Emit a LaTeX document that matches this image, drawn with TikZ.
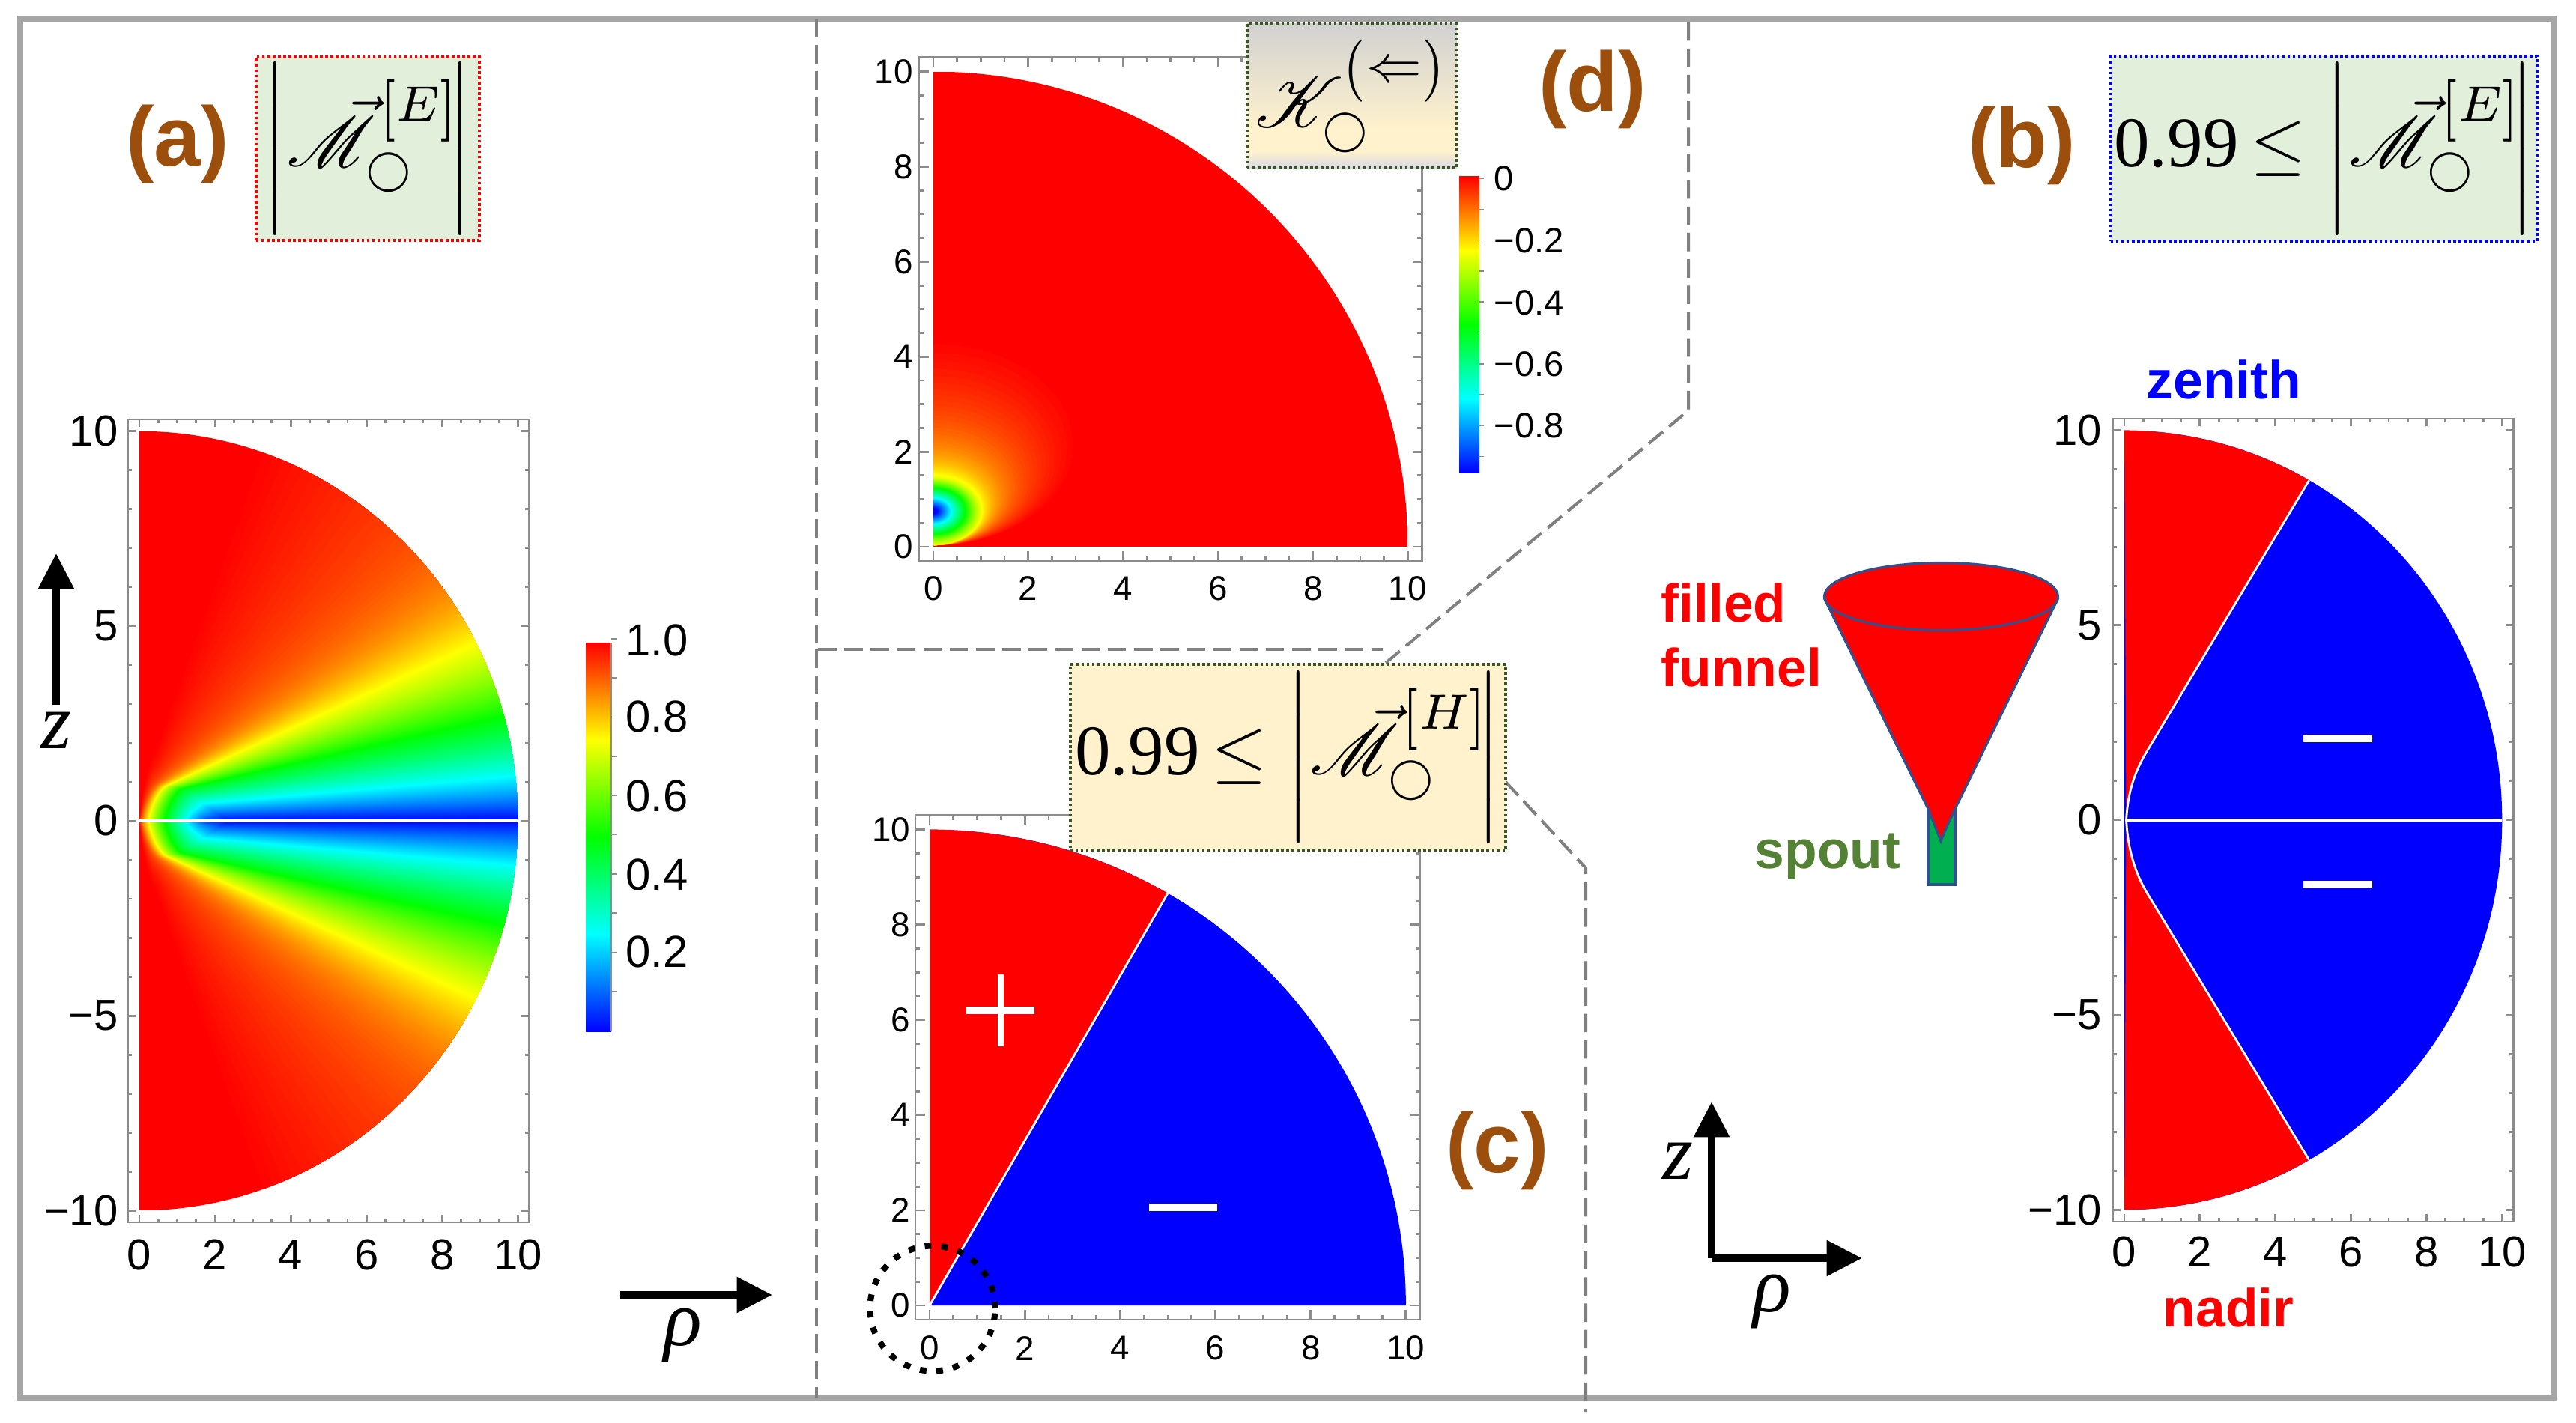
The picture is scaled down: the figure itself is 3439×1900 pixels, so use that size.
\documentclass[tikz,border=0pt]{standalone}
\usetikzlibrary{arrows.meta}
\usepackage{amsmath}
\usepackage{graphicx}
\usepackage{mathrsfs}
\usepackage{fontspec}
\setmainfont{Liberation Sans}
\newfontfamily\timesf{Liberation Serif}
\definecolor{panelgray}{HTML}{A6A6A6}
\definecolor{dashgray}{HTML}{808080}
\definecolor{plotgray}{HTML}{8C8C8C}
\definecolor{labelbrown}{HTML}{9C4F0C}
\definecolor{boxgreen}{HTML}{E2EFDA}
\definecolor{boxcream}{HTML}{FFF2CC}
\definecolor{dotgreen}{HTML}{385723}
\definecolor{spoutgreen}{HTML}{548235}
\definecolor{spoutfill}{HTML}{00B050}
\definecolor{funnelblue}{HTML}{2F528F}
\pgfdeclareverticalshading{rainbowbar}{100bp}{color(0bp)=(blue); color(25bp)=(blue); color(37.5bp)=(cyan); color(50bp)=(green); color(62.5bp)=(yellow); color(75bp)=(red); color(100bp)=(red)}
\pgfdeclareverticalshading{kappabox}{100bp}{color(0bp)=(boxcream); color(25bp)=(blue!15!gray!25); color(31bp)=(boxcream); color(38bp)=(boxcream); color(75bp)=(black!18); color(100bp)=(black!18)}
\newcommand{\ringsub}{\scalebox{1}[1.2]{$\scriptscriptstyle\bigcirc$}}
\newcommand{\tallb}[1]{\raisebox{-.8pt}{\scalebox{1}[1.25]{$\scriptstyle#1$}}}
\newcommand{\magn}[1]{\left|\rule[-7.9pt]{0pt}{20.8pt}\smash{\vec{\mathscr{M}}_{\ringsub}^{\hspace{.6pt}\tallb{[}#1\tallb{]}}}\!\right|}
\newcommand{\plotframe}[3]{
	\draw[plotline] (-.3,#1) rectangle (10.3,10.3);
	\foreach \t in {0,.5,...,10} {
		\draw[plotline] (\t,#1) -- ++(0,.1);
		\draw[plotline] (\t,10.3) -- ++(0,-.1);
	}
	\foreach \t in {0,2,...,10} {
		\draw[plotline] (\t,#1) -- ++(0,.2);
		\draw[plotline] (\t,10.3) -- ++(0,-.2);
	}
	\foreach \t in {#2} {
		\draw[plotline] (-.3,\t) -- ++(.1,0);
		\draw[plotline] (10.3,\t) -- ++(-.1,0);
	}
	\foreach \t in {#3} {
		\draw[plotline] (-.3,\t) -- ++(.2,0);
		\draw[plotline] (10.3,\t) -- ++(-.2,0);
	}
}
\begin{document}
\begin{tikzpicture}[x=0.01cm,y=-0.01cm]
	\tikzstyle{plotline}=[plotgray,line width=.8pt]
	\tikzstyle{ticklarge}=[inner sep=0pt,font=\fontsize{16.5}{18}\selectfont]
	\tikzstyle{ticksmall}=[inner sep=0pt,font=\fontsize{13}{15}\selectfont]
	\tikzstyle{barlarge}=[inner sep=0pt,anchor=west,font=\fontsize{17}{19}\selectfont]
	\tikzstyle{barsmall}=[inner sep=0pt,anchor=west,font=\fontsize{13.4}{15}\selectfont]
	\tikzstyle{panellabel}=[inner sep=0pt,labelbrown,font=\fontsize{32}{36}\selectfont\bfseries]
	\tikzstyle{wordlabel}=[inner sep=0pt,anchor=base west,font=\fontsize{20.3}{24}\selectfont\bfseries]
	\tikzstyle{axislabel}=[inner sep=0pt,font=\fontsize{30}{32}\selectfont\timesf\itshape]
	\tikzstyle{eqbox}=[draw,line width=1pt,dash pattern=on 1pt off 1pt,inner sep=0pt]
	\tikzstyle{axisarrow}=[line width=2.8pt,-{Triangle[length=13.5pt,width=13pt]}]
	\tikzstyle{regionline}=[white,line width=.8pt]
	\tikzstyle{signbar}=[white,line width=2.8pt]
	\tikzstyle{panelline}=[dashgray,line width=1.15pt,dash pattern=on 7pt off 3pt]
	\useasboundingbox (0,0) rectangle (3439,1900);
	\draw[panelgray,line width=2pt] (27,25) rectangle (3409,1866);

	\coordinate (d_1) at (1090,25);
	\coordinate (d_2) at (1090,867);
	\coordinate (d_3) at (1846,867);
	\coordinate (d_4) at (1850,885);
	\coordinate (d_5) at (2254,548);
	\coordinate (d_6) at (2254,25);
	\coordinate (c_1) at (1090,1866);
	\coordinate (c_2) at (2010,1044);
	\coordinate (c_3) at (2117,1159);
	\coordinate (c_4) at (2117,1885);
	\draw[panelline] (d_1) -- (d_2) -- (d_3);
	\draw[panelline] (d_4) -- (d_5) -- (d_6);
	\draw[panelline] (d_2) -- (c_1);
	\draw[panelline] (c_2) -- (c_3) -- (c_4);

	\begin{scope}[shift={(186,1096)},x=.505cm,y=.52cm]
		\plotframe{-10.3}{-10,-9,...,10}{-10,-5,...,10}
		\begin{scope}
			\clip (0,-10) arc[start angle=-90,end angle=90,radius=10] -- cycle;
			\fill[red] (0,-10) rectangle (10,10);
			\foreach \i in {239,238,...,1} {
				\pgfmathsetmacro{\v}{\i/240}
				\pgfmathsetmacro{\m}{.403*\v/(1.422-\v)+2*\v^30}
				\pgfmathsetmacro{\c}{min(1.2*\v,.58)}
				\pgfmathsetmacro{\s}{1.9*(1-\v)^1.5}
				\pgfmathsetmacro{\k}{\s+.45}
				\pgfmathsetmacro{\h}{\c+\m*\k}
				\pgfmathsetmacro{\cr}{max(0,min(1,4*\v-2))}
				\pgfmathsetmacro{\cg}{max(0,min(1,min(4*\v,4-4*\v)))}
				\pgfmathsetmacro{\cb}{max(0,min(1,2-4*\v))}
				\definecolor{levelcolor}{rgb}{\cr,\cg,\cb}
				\fill[levelcolor] (\s,0) .. controls (\s+.1,.55*\h) and (\k-.15,\h-.1) .. (\k,\h) -- (11.5,\c+11.5*\m) -- (11.5,-\c-11.5*\m) -- (\k,-\h) .. controls (\k-.15,-\h+.1) and (\s+.1,-.55*\h) .. (\s,0) -- cycle;
			}
		\end{scope}
		\draw[white,line width=.9pt] (0,0) -- (10,0);
		\foreach \t in {0,2,...,10}
			\node[ticklarge] (a_x\t) at (\t,-11.13) {\t};
		\foreach \t/\s in {-10/−10,-5/−5,0/0,5/5,10/10}
			\node[ticklarge,anchor=east] (a_y\t) at (-.55,\t) {\s};
	\end{scope}

	\begin{scope}[shift={(2836,1095)},x=.504cm,y=.52cm]
		\plotframe{-10.3}{-10,-9,...,10}{-10,-5,...,10}
		\fill[blue] (0,-10) arc[start angle=-90,end angle=90,radius=10] -- cycle;
		\fill[red] (0,10) arc[start angle=90,end angle=60.7,radius=10] -- (.65,1.85) .. controls (.3,1.3) and (.1,.8) .. (.05,0) -- cycle;
		\fill[red] (0,-10) arc[start angle=-90,end angle=-60.7,radius=10] -- (.65,-1.95) .. controls (.3,-1.4) and (.1,-.8) .. (.05,0) -- cycle;
		\draw[regionline] (4.89,8.72) -- (.65,1.85) .. controls (.3,1.3) and (.1,.8) .. (.05,0);
		\draw[regionline] (4.89,-8.72) -- (.65,-1.95) .. controls (.3,-1.4) and (.1,-.8) .. (.05,0);
		\draw[white,line width=.9pt] (.05,0) -- (10,0);
		\draw[signbar] (4.74,2.1) -- (6.56,2.1);
		\draw[signbar] (4.74,-1.65) -- (6.56,-1.65);
		\foreach \t in {0,2,...,10}
			\node[ticklarge] (b_x\t) at (\t,-11.08) {\t};
		\foreach \t/\s in {-10/−10,-5/−5,0/0,5/5,10/10}
			\node[ticklarge,anchor=east] (b_y\t) at (-.58,\t) {\s};
	\end{scope}

	\begin{scope}[shift={(1241,1743)},x=.6355cm,y=.635cm]
		\plotframe{-.3}{0,.5,...,10}{0,2,...,10}
		\fill[blue] (0,0) -- (10,0) arc[start angle=0,end angle=90,radius=10] -- cycle;
		\fill[red] (0,0) -- (5,8.66) arc[start angle=60,end angle=90,radius=10] -- cycle;
		\draw[regionline] (0,0) -- (5,8.66);
		\draw[signbar] (.77,6.2) -- (2.2,6.2);
		\draw[white,line width=2.2pt] (1.49,5.45) -- (1.49,6.95);
		\draw[signbar] (4.6,2.06) -- (6.04,2.06);
		\foreach \t in {0,2,...,10} {
			\node[ticksmall] (c_x\t) at (\t,-.9) {\t};
			\node[ticksmall,anchor=east] (c_y\t) at (-.4,\t) {\t};
		}
	\end{scope}

	\begin{scope}[shift={(1246,730)},x=.633cm,y=.634cm]
		\plotframe{-.3}{0,.5,...,10}{0,2,...,10}
		\begin{scope}
			\clip (0,0) -- (10,0) arc[start angle=0,end angle=90,radius=10] -- cycle;
			\fill[red] (0,0) rectangle (10,10);
			\foreach \i in {159,158,...,1} {
				\pgfmathsetmacro{\v}{\i/160}
				\pgfmathsetmacro{\rx}{.08+1.2*\v+1.8*\v^12}
				\pgfmathsetmacro{\ry}{.72*\rx}
				\pgfmathsetmacro{\cy}{max(.75,\ry+.03)}
				\pgfmathsetmacro{\cr}{max(0,min(1,4*\v-2))}
				\pgfmathsetmacro{\cg}{max(0,min(1,min(4*\v,4-4*\v)))}
				\pgfmathsetmacro{\cb}{max(0,min(1,2-4*\v))}
				\definecolor{levelcolor}{rgb}{\cr,\cg,\cb}
				\fill[levelcolor] (0,\cy) ellipse[x radius=\rx,y radius=\ry];
			}
		\end{scope}
		\foreach \t in {0,2,...,10} {
			\node[ticksmall] (d_x\t) at (\t,-.88) {\t};
			\node[ticksmall,anchor=east] (d_y\t) at (-.42,\t) {\t};
		}
	\end{scope}

	\shade[shading=rainbowbar] (782,858) rectangle (816,1377);
	\draw[plotline,line width=.6pt] (816,858) -- (816,1377);
	\foreach \t in {1,...,10}
		\draw[plotline,line width=.5pt] (816,1376-\t*52.3) -- ++(8,0);
	\node[barlarge] (bar_a1) at (835,855) {1.0};
	\node[barlarge] (bar_a2) at (835,957) {0.8};
	\node[barlarge] (bar_a3) at (835,1063) {0.6};
	\node[barlarge] (bar_a4) at (835,1168) {0.4};
	\node[barlarge] (bar_a5) at (835,1271) {0.2};

	\shade[shading=rainbowbar] (1948,236) rectangle (1975,631);
	\foreach \t in {0,1,...,9}
		\draw[plotline,line width=.4pt] (1975,238+\t*41.3) -- ++(6,0);
	\node[barsmall] (bar_d1) at (1994,238) {0};
	\node[barsmall] (bar_d2) at (1994,321) {−0.2};
	\node[barsmall] (bar_d3) at (1994,404) {−0.4};
	\node[barsmall] (bar_d4) at (1994,486) {−0.6};
	\node[barsmall] (bar_d5) at (1994,568) {−0.8};

	\filldraw[fill=spoutfill,draw=funnelblue,line width=.9pt] (2574,1050) -- (2574,1181) -- (2610,1181) -- (2610,1050) -- cycle;
	\filldraw[fill=red,draw=funnelblue,line width=.9pt] (2436,800) -- (2574,1080) .. controls (2580,1095) and (2586,1110) .. (2591,1123) .. controls (2596,1110) and (2603,1095) .. (2610,1080) -- (2747,800) -- cycle;
	\filldraw[fill=red,draw=funnelblue,line width=.9pt] (2591.5,796.5) ellipse[x radius=156,y radius=45];
	\node[wordlabel,red] (filled) at (2217,830) {filled};
	\node[wordlabel,red] (funnel) at (2217,916) {funnel};
	\node[wordlabel,spoutgreen] (spout) at (2342,1159) {spout};
	\node[wordlabel,blue] (zenith) at (2865,532) {zenith};
	\node[wordlabel,red] (nadir) at (2887,1771) {nadir};

	\node[panellabel] (lab_a) at (237,192) {(a)};
	\node[panellabel] (lab_b) at (2699,194) {(b)};
	\node[panellabel] (lab_c) at (1999,1536) {(c)};
	\node[panellabel] (lab_d) at (2126,119) {(d)};

	\coordinate (za_tail) at (75,941);
	\coordinate (za_tip) at (75,739);
	\coordinate (ra_tail) at (828,1729);
	\coordinate (ra_tip) at (1031,1729);
	\draw[axisarrow] (za_tail) -- (za_tip);
	\draw[axisarrow] (ra_tail) -- (ra_tip);
	\node[axislabel] (za) at (75,975) {z};
	\node[axislabel] (ra) at (912,1783) {ρ};

	\coordinate (zb_base) at (2285,1680);
	\coordinate (zb_tip) at (2285,1471);
	\coordinate (rb_tip) at (2486,1680);
	\draw[axisarrow] (zb_base) -- (zb_tip);
	\draw[axisarrow] (zb_base) -- (rb_tip);
	\node[axislabel] (zb) at (2240,1550) {z};
	\node[axislabel] (rb) at (2366,1738) {ρ};

	\node[draw=black,line width=2.3pt,line cap=butt,dash pattern=on 2.5pt off 3.8pt,circle,inner sep=0pt,minimum size=1.67cm] (focus) at (1245,1747) {};

	\node[eqbox,draw=red,fill=boxgreen,minimum width=2.98cm,minimum height=2.45cm] (box_a) at (491,198.5) {\scalebox{2.7}{$\magn{E}$}};
	\node[eqbox,draw=blue,fill=boxgreen,minimum width=5.69cm,minimum height=2.47cm] (box_b) at (3102.5,198.5) {\scalebox{2.7}{{\timesf 0.99}\,$\leq\magn{E}$}};
	\node[eqbox,draw=dotgreen,fill=boxcream,minimum width=5.81cm,minimum height=2.48cm] (box_c) at (1719.5,1011) {\scalebox{2.7}{{\timesf 0.99}\,$\leq\magn{H}$}};
	\node[eqbox,draw=dotgreen,shading=kappabox,minimum width=2.8cm,minimum height=1.92cm] (box_d) at (1805,128) {\scalebox{2.7}{$\mathscr{K}_{\ringsub}^{\tallb{(}\Leftarrow\tallb{)}}$}};
\end{tikzpicture}
\end{document}
